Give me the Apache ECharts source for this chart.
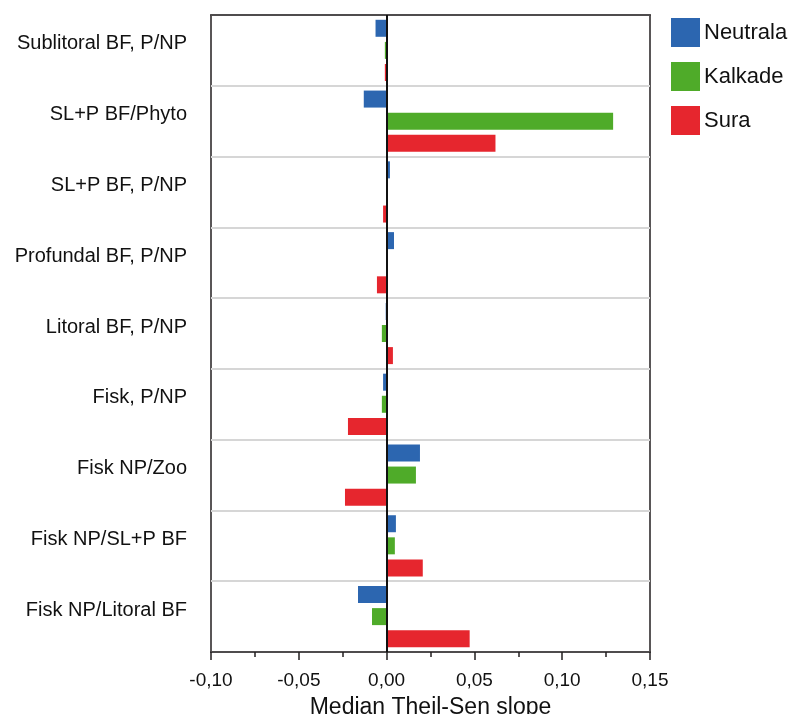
<!DOCTYPE html>
<html>
<head>
<meta charset="utf-8">
<script src="https://cdn.jsdelivr.net/npm/echarts@6/dist/echarts.min.js"></script>
<style>
  html, body { margin: 0; padding: 0; background: #fff; }
  #chart { width: 795px; height: 714px; }
</style>
</head>
<body>
<div id="chart"></div>
<script>
// kategorier, uppifrån och ned
const categories = [
  'Sublitoral BF, P/NP',
  'SL+P BF/Phyto',
  'SL+P BF, P/NP',
  'Profundal BF, P/NP',
  'Litoral BF, P/NP',
  'Fisk, P/NP',
  'Fisk NP/Zoo',
  'Fisk NP/SL+P BF',
  'Fisk NP/Litoral BF'
]
// median Theil-Sen slope per sjötyp
const neutrala = [-0.0063, -0.013, 0.0019, 0.0042, -0.0005, -0.002, 0.019, 0.0053, -0.0163]
const kalkade  = [-0.001, 0.129, -0.0003, 0.0003, -0.0027, -0.0027, 0.0167, 0.0047, -0.0083]
const sura     = [-0.001, 0.062, -0.002, -0.0055, 0.0036, -0.022, -0.0237, 0.0206, 0.0473]

const xTicks = { min: -0.1, max: 0.15, interval: 0.05 }

const font = '"Liberation Sans", Arial, Helvetica, sans-serif'
const colors = ['#2c66b0', '#4fab29', '#e6262e']
const frame = '#231f20'

const chart = echarts.init(document.getElementById('chart'))

const bar = (name, data, color) => ({
  name: name,
  type: 'bar',
  data: data,
  barWidth: 17,
  barGap: '30%',
  itemStyle: { color: color },
  silent: true
})

const series = [
  bar('Neutrala', neutrala, colors[0]),
  bar('Kalkade', kalkade, colors[1]),
  bar('Sura', sura, colors[2])
]
// nollinjen
series[2].markLine = {
  silent: true,
  symbol: 'none',
  label: { show: false },
  lineStyle: { color: '#111', width: 2, type: 'solid' },
  data: [{ xAxis: 0 }]
}

chart.setOption({
  animation: false,
  textStyle: { fontFamily: font },
  grid: {
    left: 211,
    right: 145,
    top: 15,
    bottom: 62,
    outerBoundsMode: 'none',
    show: true,
    borderColor: frame,
    borderWidth: 1.5
  },
  legend: {
    orient: 'vertical',
    left: 671,
    top: 18,
    padding: 0,
    itemWidth: 29,
    itemHeight: 29,
    itemGap: 15,
    icon: 'rect',
    textStyle: { fontSize: 22, color: '#111', fontFamily: font, padding: [0, 0, 0, -1] },
    data: ['Neutrala', 'Kalkade', 'Sura']
  },
  xAxis: [{
    type: 'value',
    min: xTicks.min,
    max: xTicks.max,
    interval: xTicks.interval,
    name: 'Median Theil-Sen slope',
    nameLocation: 'middle',
    nameGap: 44,
    nameTextStyle: { fontSize: 23, color: '#111', fontFamily: font },
    axisLine: { show: true, lineStyle: { color: frame, width: 1.5 } },
    axisTick: { show: true, length: 8, lineStyle: { color: frame, width: 1.5 } },
    minorTick: { show: true, splitNumber: 2, length: 5, lineStyle: { color: frame, width: 1.5 } },
    splitLine: { show: false },
    axisLabel: {
      fontSize: 19,
      color: '#111',
      margin: 19,
      formatter: v => v.toFixed(2).replace('.', ',')
    }
  }, {
    // övre ramlinjen
    type: 'value',
    position: 'top',
    min: xTicks.min,
    max: xTicks.max,
    interval: xTicks.interval,
    axisLine: { show: true, lineStyle: { color: frame, width: 1.5 } },
    axisTick: { show: false },
    axisLabel: { show: false },
    splitLine: { show: false }
  }],
  yAxis: {
    type: 'category',
    inverse: true,
    data: categories,
    axisLine: { show: false },
    axisTick: { show: false },
    splitLine: { show: true, lineStyle: { color: '#d6d6d6', width: 2 } },
    axisLabel: {
      fontSize: 20,
      color: '#111',
      margin: 24,
      verticalAlign: 'bottom',
      lineHeight: 13
    }
  },
  series: series
})
</script>
</body>
</html>
